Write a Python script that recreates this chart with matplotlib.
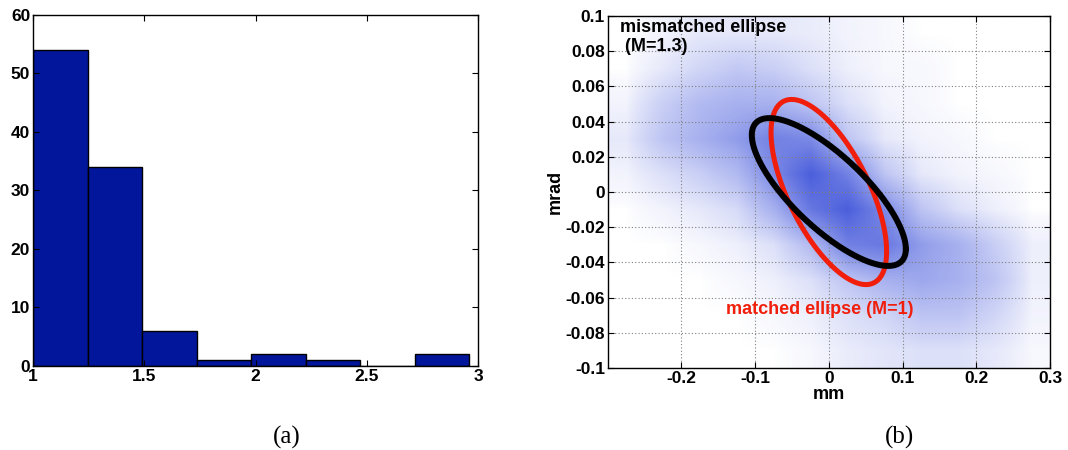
import numpy as np
import matplotlib
matplotlib.use("Agg")
import matplotlib.pyplot as plt
from matplotlib.colors import LinearSegmentedColormap, PowerNorm

plt.rcParams["font.family"] = ["Liberation Sans", "DejaVu Sans"]
plt.rcParams["font.weight"] = "bold"

# (a) histogram
bin_edges = [1.0, 1.245, 1.49, 1.735, 1.98, 2.225, 2.47, 2.715, 2.96]
counts    = [54, 34, 6, 1, 2, 1, 0, 2]
hist_xticks = [1, 1.5, 2, 2.5, 3]
hist_xlabels = ["1", "1.5", "2", "2.5", "3"]
hist_yticks = [0, 10, 20, 30, 40, 50, 60]

# (b) phase space: particle density (rows top -> bottom)
dens_x = [-0.275, -0.225, -0.175, -0.125, -0.075, -0.025, 0.025, 0.075, 0.125, 0.175, 0.225, 0.275]
dens_y = [0.09, 0.07, 0.05, 0.03, 0.01, -0.01, -0.03, -0.05, -0.07, -0.09]
density = [
    [0.00, 0.02, 0.05, 0.05, 0.05, 0.04, 0.02, 0.01, 0.00, 0.00, 0.00, 0.00],
    [0.00, 0.05, 0.12, 0.18, 0.15, 0.08, 0.03, 0.01, 0.01, 0.00, 0.00, 0.00],
    [0.02, 0.15, 0.25, 0.30, 0.30, 0.20, 0.08, 0.02, 0.01, 0.00, 0.00, 0.00],
    [0.05, 0.20, 0.30, 0.40, 0.55, 0.50, 0.20, 0.05, 0.02, 0.01, 0.00, 0.00],
    [0.02, 0.08, 0.15, 0.25, 0.50, 0.75, 0.55, 0.20, 0.05, 0.02, 0.01, 0.00],
    [0.00, 0.02, 0.05, 0.10, 0.30, 0.60, 0.75, 0.50, 0.20, 0.08, 0.03, 0.00],
    [0.00, 0.00, 0.01, 0.03, 0.08, 0.25, 0.55, 0.60, 0.40, 0.30, 0.15, 0.03],
    [0.00, 0.00, 0.00, 0.01, 0.03, 0.08, 0.20, 0.30, 0.35, 0.30, 0.20, 0.03],
    [0.00, 0.00, 0.00, 0.00, 0.01, 0.03, 0.08, 0.12, 0.20, 0.20, 0.12, 0.02],
    [0.00, 0.00, 0.00, 0.00, 0.00, 0.01, 0.04, 0.06, 0.08, 0.08, 0.05, 0.01],
]
# ellipse second moments (sxx [mm^2], sxy [mm mrad], syy [mrad^2])
matched    = (0.00615, -0.00265, 0.002767)
mismatched = (0.01092, -0.00338, 0.001764)

ps_xticks = [-0.2, -0.1, 0, 0.1, 0.2, 0.3]
ps_xlabels = ["-0.2", "-0.1", "0", "0.1", "0.2", "0.3"]
ps_yticks = [-0.1, -0.08, -0.06, -0.04, -0.02, 0, 0.02, 0.04, 0.06, 0.08, 0.1]
ps_ylabels = ["-0.1", "-0.08", "-0.06", "-0.04", "-0.02", "0", "0.02", "0.04", "0.06", "0.08", "0.1"]


def ellipse_outline(mom, n=300):
    sxx, sxy, syy = mom
    L = np.linalg.cholesky(np.array([[sxx, sxy], [sxy, syy]]))
    t = np.linspace(0, 2 * np.pi, n)
    pts = L @ np.vstack([np.cos(t), np.sin(t)])
    return pts[0], pts[1]


fig = plt.figure(figsize=(10.68, 4.5), dpi=100)

ax1 = fig.add_axes([0.0309, 0.1867, 0.4167, 0.78])
ax1.bar(bin_edges[:-1], counts, width=np.diff(bin_edges), align="edge",
        color="#02169b", edgecolor="black", linewidth=1)
ax1.set_xlim(1, 3)
ax1.set_ylim(0, 60)
ax1.set_xticks(hist_xticks)
ax1.set_xticklabels(hist_xlabels)
ax1.set_yticks(hist_yticks)
ax1.tick_params(direction="in", top=True, right=True, length=4, labelsize=12.5, pad=2)

ax2 = fig.add_axes([0.569, 0.1822, 0.4141, 0.7822])
cmap = LinearSegmentedColormap.from_list("cloud", ["#ffffff", "#a4aeee", "#3a4fd8"])
ax2.imshow(density, cmap=cmap, norm=PowerNorm(0.7, vmin=0, vmax=0.85), interpolation="bilinear",
           extent=(-0.3, 0.3, -0.1, 0.1), origin="upper", aspect="auto")
ex, ey = ellipse_outline(matched)
ax2.plot(ex, ey, color="#f01e0a", lw=3.6, solid_capstyle="round")
ex, ey = ellipse_outline(mismatched)
ax2.plot(ex, ey, color="black", lw=4.3, solid_capstyle="round")
ax2.set_xlim(-0.3, 0.3)
ax2.set_ylim(-0.1, 0.1)
ax2.set_xticks(ps_xticks)
ax2.set_xticklabels(ps_xlabels)
ax2.set_yticks(ps_yticks)
ax2.set_yticklabels(ps_ylabels)
ax2.grid(True, color="0.5", linestyle=(0, (1, 2)), linewidth=0.8)
ax2.tick_params(direction="in", top=True, right=True, length=4, labelsize=12.5, pad=2)
ax2.set_xlabel("mm", fontsize=13, fontweight="bold", labelpad=0)
ax2.set_ylabel("mrad", fontsize=13, fontweight="bold", labelpad=1)
ax2.text(-0.283, 0.088, "mismatched ellipse\n (M=1.3)", fontsize=13, fontweight="bold",
         va="center", ha="left", linespacing=1.1)
ax2.text(-0.1395, -0.0665, "matched ellipse (M=1)", fontsize=13, fontweight="bold",
         color="#f01e0a", va="center", ha="left")

for a in (ax1, ax2):
    for s in a.spines.values():
        s.set_linewidth(1)

fig.text(287 / 1068, 1 - 437 / 450, "(a)", fontsize=18, family=["Liberation Serif"],
         fontweight="normal", ha="center", va="center")
fig.text(900 / 1068, 1 - 437 / 450, "(b)", fontsize=18, family=["Liberation Serif"],
         fontweight="normal", ha="center", va="center")

fig.savefig("out.png", dpi=100)
